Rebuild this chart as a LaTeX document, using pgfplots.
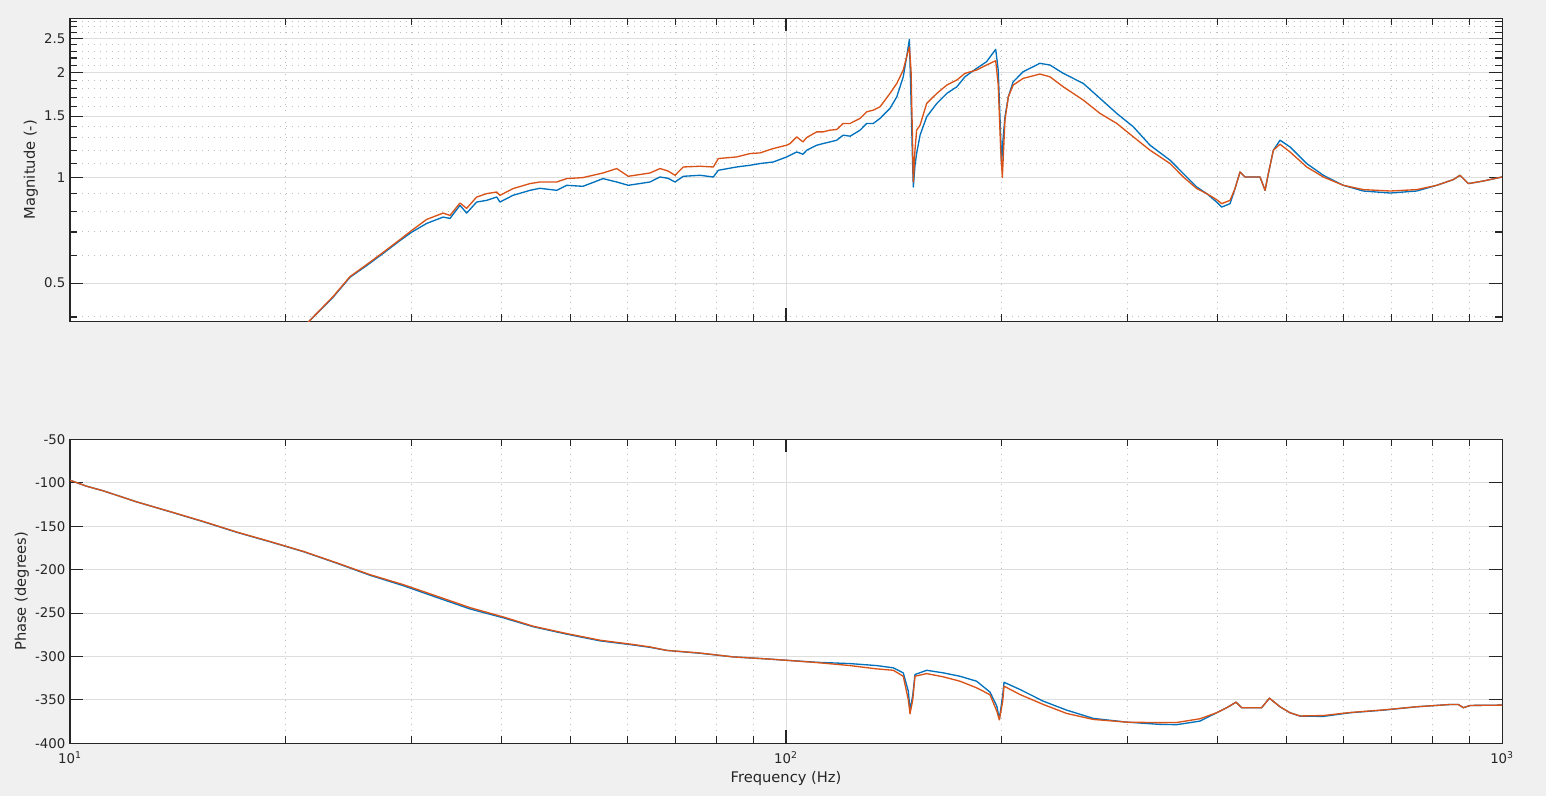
\documentclass[border=0pt]{standalone}
\usepackage{pgfplots}
\pgfplotsset{compat=1.18}
\usepackage{fontspec}
\setmainfont{DejaVu Sans}
\definecolor{mblue}{RGB}{0,114,189}
\definecolor{morange}{RGB}{217,83,25}
\definecolor{axiscol}{RGB}{38,38,38}
\definecolor{textcol}{RGB}{38,38,38}
\definecolor{gridmaj}{RGB}{222,222,222}
\definecolor{gridmin}{RGB}{190,190,190}
\definecolor{figbg}{RGB}{240,240,240}
\pgfplotsset{
  bode/.style={
    axis background/.style={fill=white},
    axis line style={color=axiscol, line width=0.8pt},
    tick style={color=axiscol, line width=0.8pt},
    major tick length=9.75pt, minor tick length=5.25pt,
    tick align=inside,
    tick pos=both,
    xticklabel pos=left, yticklabel pos=left,
    grid=both,
    major grid style={color=gridmaj, line width=0.75pt, solid},
    minor grid style={color=gridmin, line width=0.75pt, dash pattern=on 0.75pt off 3.75pt},
    xtick={10,100,1000},
    minor xtick={20,30,40,50,60,70,80,90,200,300,400,500,600,700,800,900},
    tick label style={font=\fontsize{10}{12}\selectfont, color=textcol},
    label style={font=\fontsize{11}{13}\selectfont, color=textcol},
    every axis plot/.append style={line width=1.0pt, line join=round},
  }
}
\begin{document}
\begin{tikzpicture}
\useasboundingbox (0,0) rectangle (1159.5pt,597pt);
\fill[figbg] (0,0) rectangle (1159.5pt,597pt);

% ---------------- Magnitude ----------------
\begin{axis}[
  xmode=log, ymode=log,
  scale only axis, width=1074pt, height=227.25pt,
  at={(52.5pt,583.3pt)}, anchor=north west,
  xmin=10, xmax=1000,
  ymin=0.389, ymax=2.858,
  bode,
  ytick={0.5,1,1.5,2,2.5},
  yticklabels={0.5,1,1.5,2,2.5},
  minor ytick={0.4,0.6,0.7,0.8,0.9,1.1,1.2,1.3,1.4,1.6,1.7,1.8,1.9,2.1,2.2,2.3,2.4,2.6,2.7,2.8},
  xticklabels={},
  ylabel={Magnitude (-)},
  ylabel style={at={(axis description cs:-0.0274,0.5)}, anchor=center},
]
\addplot[color=mblue] table {
19.65 0.330
21.50 0.3862
23.30 0.4554
24.61 0.5196
25.97 0.5614
27.36 0.6075
28.91 0.6619
30.01 0.6992
31.49 0.7406
33.19 0.7721
33.94 0.7655
35.05 0.8341
35.81 0.7927
36.98 0.8524
38.19 0.8620
39.44 0.8810
39.86 0.8524
41.56 0.8909
43.90 0.9208
45.33 0.9331
47.83 0.9208
49.39 0.9517
52.05 0.9454
55.52 0.9947
58.02 0.9727
60.22 0.9517
64.58 0.9727
66.68 1.0053
68.42 0.9967
69.98 0.9727
71.88 1.0099
75.85 1.0166
79.17 1.0053
80.44 1.0507
85.33 1.0738
89.10 1.0860
91.98 1.0982
96.01 1.1099
100.2 1.1470
101.3 1.1600
103.5 1.1855
105.6 1.1677
106.9 1.1989
110.4 1.2391
112.7 1.2530
115.2 1.2662
117.7 1.2806
120.2 1.3239
122.9 1.3150
126.9 1.3683
129.6 1.4302
132.4 1.4302
135.3 1.4781
139.7 1.5786
142.8 1.7044
145.8 1.9445
147.4 2.2192
148.7 2.4855
149.5 1.6679
150.2 1.1224
150.6 0.9411
151.4 1.0860
152.2 1.1731
153.9 1.3239
157.2 1.4939
162.4 1.6316
167.7 1.7427
173.2 1.8200
177.8 1.9445
184.6 2.0555
190.6 2.1471
196.3 2.3292
197.9 2.0324
199.5 1.3089
200.0 1.0860
200.9 1.2806
202.2 1.4939
204.4 1.7044
207.6 1.8810
214.4 2.0101
226.2 2.1244
233.7 2.1006
243.9 1.9889
260.1 1.8613
274.5 1.6866
289.7 1.5276
305.6 1.3983
322.4 1.2391
343.9 1.1224
358.9 1.0281
374.7 0.9411
386.9 0.9010
399.5 0.8524
406.0 0.8247
417.0 0.8435
423.7 0.9313
430.6 1.0390
437.6 1.0053
459.2 1.0053
466.7 0.9208
471.7 1.0281
479.3 1.1989
489.7 1.2806
505.7 1.2254
533.6 1.0982
562.9 1.0166
600.2 0.9517
640.2 0.9166
697.9 0.9046
760.1 0.9166
810.6 0.9517
855.1 0.9882
873.7 1.0166
897.4 0.9625
941.9 0.9791
1000 1.0053
};
\addplot[color=morange] table {
19.65 0.330
21.50 0.3862
23.30 0.4574
24.61 0.5220
25.97 0.5651
27.36 0.6115
28.91 0.6663
30.01 0.7073
31.49 0.7605
33.19 0.7927
33.94 0.7808
35.05 0.8470
35.81 0.8176
36.98 0.8810
38.19 0.9010
39.44 0.9106
39.86 0.8909
41.56 0.9313
43.90 0.9625
45.33 0.9727
47.83 0.9727
49.39 0.9947
52.05 1.0013
55.52 1.0322
58.02 1.0626
60.22 1.0099
64.58 1.0322
66.68 1.0626
68.42 1.0459
69.98 1.0166
71.88 1.0738
75.85 1.0789
79.17 1.0738
80.44 1.1350
85.33 1.1470
89.10 1.1731
91.98 1.1778
96.01 1.2126
100.2 1.2391
101.3 1.2530
103.5 1.3089
105.6 1.2662
106.9 1.3040
110.4 1.3530
112.7 1.3530
115.2 1.3683
117.7 1.3740
120.2 1.4302
122.9 1.4302
126.9 1.4781
129.6 1.5436
132.4 1.5610
135.3 1.5956
139.7 1.7427
142.8 1.8613
145.8 2.0324
147.4 2.2192
148.7 2.3652
149.5 2.0324
150.2 1.2806
150.6 0.9727
151.4 1.1989
152.2 1.3683
153.9 1.4140
157.2 1.6316
162.4 1.7427
167.7 1.8408
173.2 1.9026
177.8 1.9889
184.6 2.0324
190.6 2.1006
196.3 2.1614
197.9 1.8408
199.5 1.1989
200.5 1.0033
201.3 1.1989
202.2 1.4615
204.4 1.7044
207.6 1.8408
214.4 1.9240
226.2 1.9797
233.7 1.9445
243.9 1.8200
260.1 1.6679
274.5 1.5276
289.7 1.4302
305.6 1.3089
322.4 1.1989
343.9 1.0982
358.9 1.0053
374.7 0.9313
386.9 0.9010
399.5 0.8661
406.0 0.8435
417.0 0.8620
423.7 0.9313
430.6 1.0390
437.6 1.0053
459.2 1.0053
466.7 0.9208
471.7 1.0281
479.3 1.1989
489.7 1.2473
505.7 1.1855
533.6 1.0738
562.9 1.0053
600.2 0.9517
640.2 0.9251
697.9 0.9166
760.1 0.9251
810.6 0.9517
855.1 0.9882
873.7 1.0166
897.4 0.9625
941.9 0.9791
1000 1.0053
};
\end{axis}

% ---------------- Phase ----------------
\begin{axis}[
  xmode=log,
  scale only axis, width=1074pt, height=228pt,
  at={(52.5pt,267.5pt)}, anchor=north west,
  xmin=10, xmax=1000,
  ymin=-400, ymax=-50,
  bode,
  ytick={-400,-350,-300,-250,-200,-150,-100,-50},
  yticklabels={-400,-350,-300,-250,-200,-150,-100,-50},
  xticklabels={10\textsuperscript{1},10\textsuperscript{2},10\textsuperscript{3}},
  xticklabel style={yshift=-2.5pt},
  ylabel={Phase (degrees)},
  ylabel style={at={(axis description cs:-0.0337,0.5)}, anchor=center},
  xlabel={Frequency (Hz)},
  xlabel style={at={(axis description cs:0.5,-0.114)}, anchor=center},
]
\addplot[color=mblue] table {
10 -97.1
10.55 -104
11.13 -109.3
12.39 -122
13.80 -133.4
15.36 -144.9
17.09 -157
19.02 -167.9
21.18 -179.3
23.58 -192.6
26.24 -206.5
29.21 -218.5
32.52 -232
36.21 -245.3
40.29 -255.5
44.37 -265.8
49.39 -274.3
54.99 -282
61.19 -286.8
64.58 -289.5
68.14 -293
75.85 -296.3
84.41 -300.5
93.98 -302.8
100.2 -304.4
110.4 -306.7
122.9 -308.2
133.9 -310.5
141.2 -313.1
145.8 -318.9
148.2 -340
149.0 -362
150.3 -345
151.4 -320.8
157.2 -315.9
165.9 -318.9
175.0 -322.8
184.6 -328.5
192.7 -341
197.0 -357.2
198.6 -372
200.7 -345
201.6 -329.7
212.2 -338
228.8 -351.5
246.6 -361.8
268.7 -371.3
299.2 -375.6
333.0 -378.2
351.4 -378.5
378.6 -374.4
399.5 -364.8
412.6 -359
425.1 -352.6
432.9 -359
461.6 -359
473.2 -348
489.7 -357.9
505.7 -364.8
522.3 -368.7
562.9 -369
613.4 -364.8
682.9 -361.8
760.1 -357.9
846.0 -355.3
869.0 -355.3
883.1 -359
902.4 -356.4
1000 -356
};
\addplot[color=morange] table {
10 -97.1
10.55 -104
11.13 -109.3
12.39 -122
13.80 -133.2
15.36 -144.6
17.09 -156.7
19.02 -167.6
21.18 -179
23.58 -192.2
26.24 -205.8
29.21 -217.3
32.52 -230.5
36.21 -243.8
40.29 -254.5
44.37 -265.2
49.39 -273.6
54.99 -281.3
61.19 -286.2
64.58 -289
68.14 -293
75.85 -296
84.41 -300.5
93.98 -302.8
100.2 -304.4
110.4 -307
122.9 -310.5
133.9 -314.3
141.2 -315.9
145.8 -322.8
148.2 -350
149.0 -366
150.3 -350
151.4 -322.8
157.2 -319.7
165.9 -323.5
175.0 -328.5
184.6 -336.1
192.7 -344
197.0 -362.9
198.6 -373
200.7 -352
201.6 -334.2
212.2 -343.8
228.8 -355.3
246.6 -365.6
268.7 -372.5
299.2 -375.6
333.0 -376.2
351.4 -376
378.6 -371.7
399.5 -364.8
412.6 -359
425.1 -352.6
432.9 -359
461.6 -359
473.2 -348
489.7 -357.9
505.7 -364.8
522.3 -368.5
562.9 -368
613.4 -364.5
682.9 -361.5
760.1 -357.9
846.0 -355.3
869.0 -355.3
883.1 -359
902.4 -356.4
1000 -356
};
\end{axis}
\end{tikzpicture}
\end{document}
